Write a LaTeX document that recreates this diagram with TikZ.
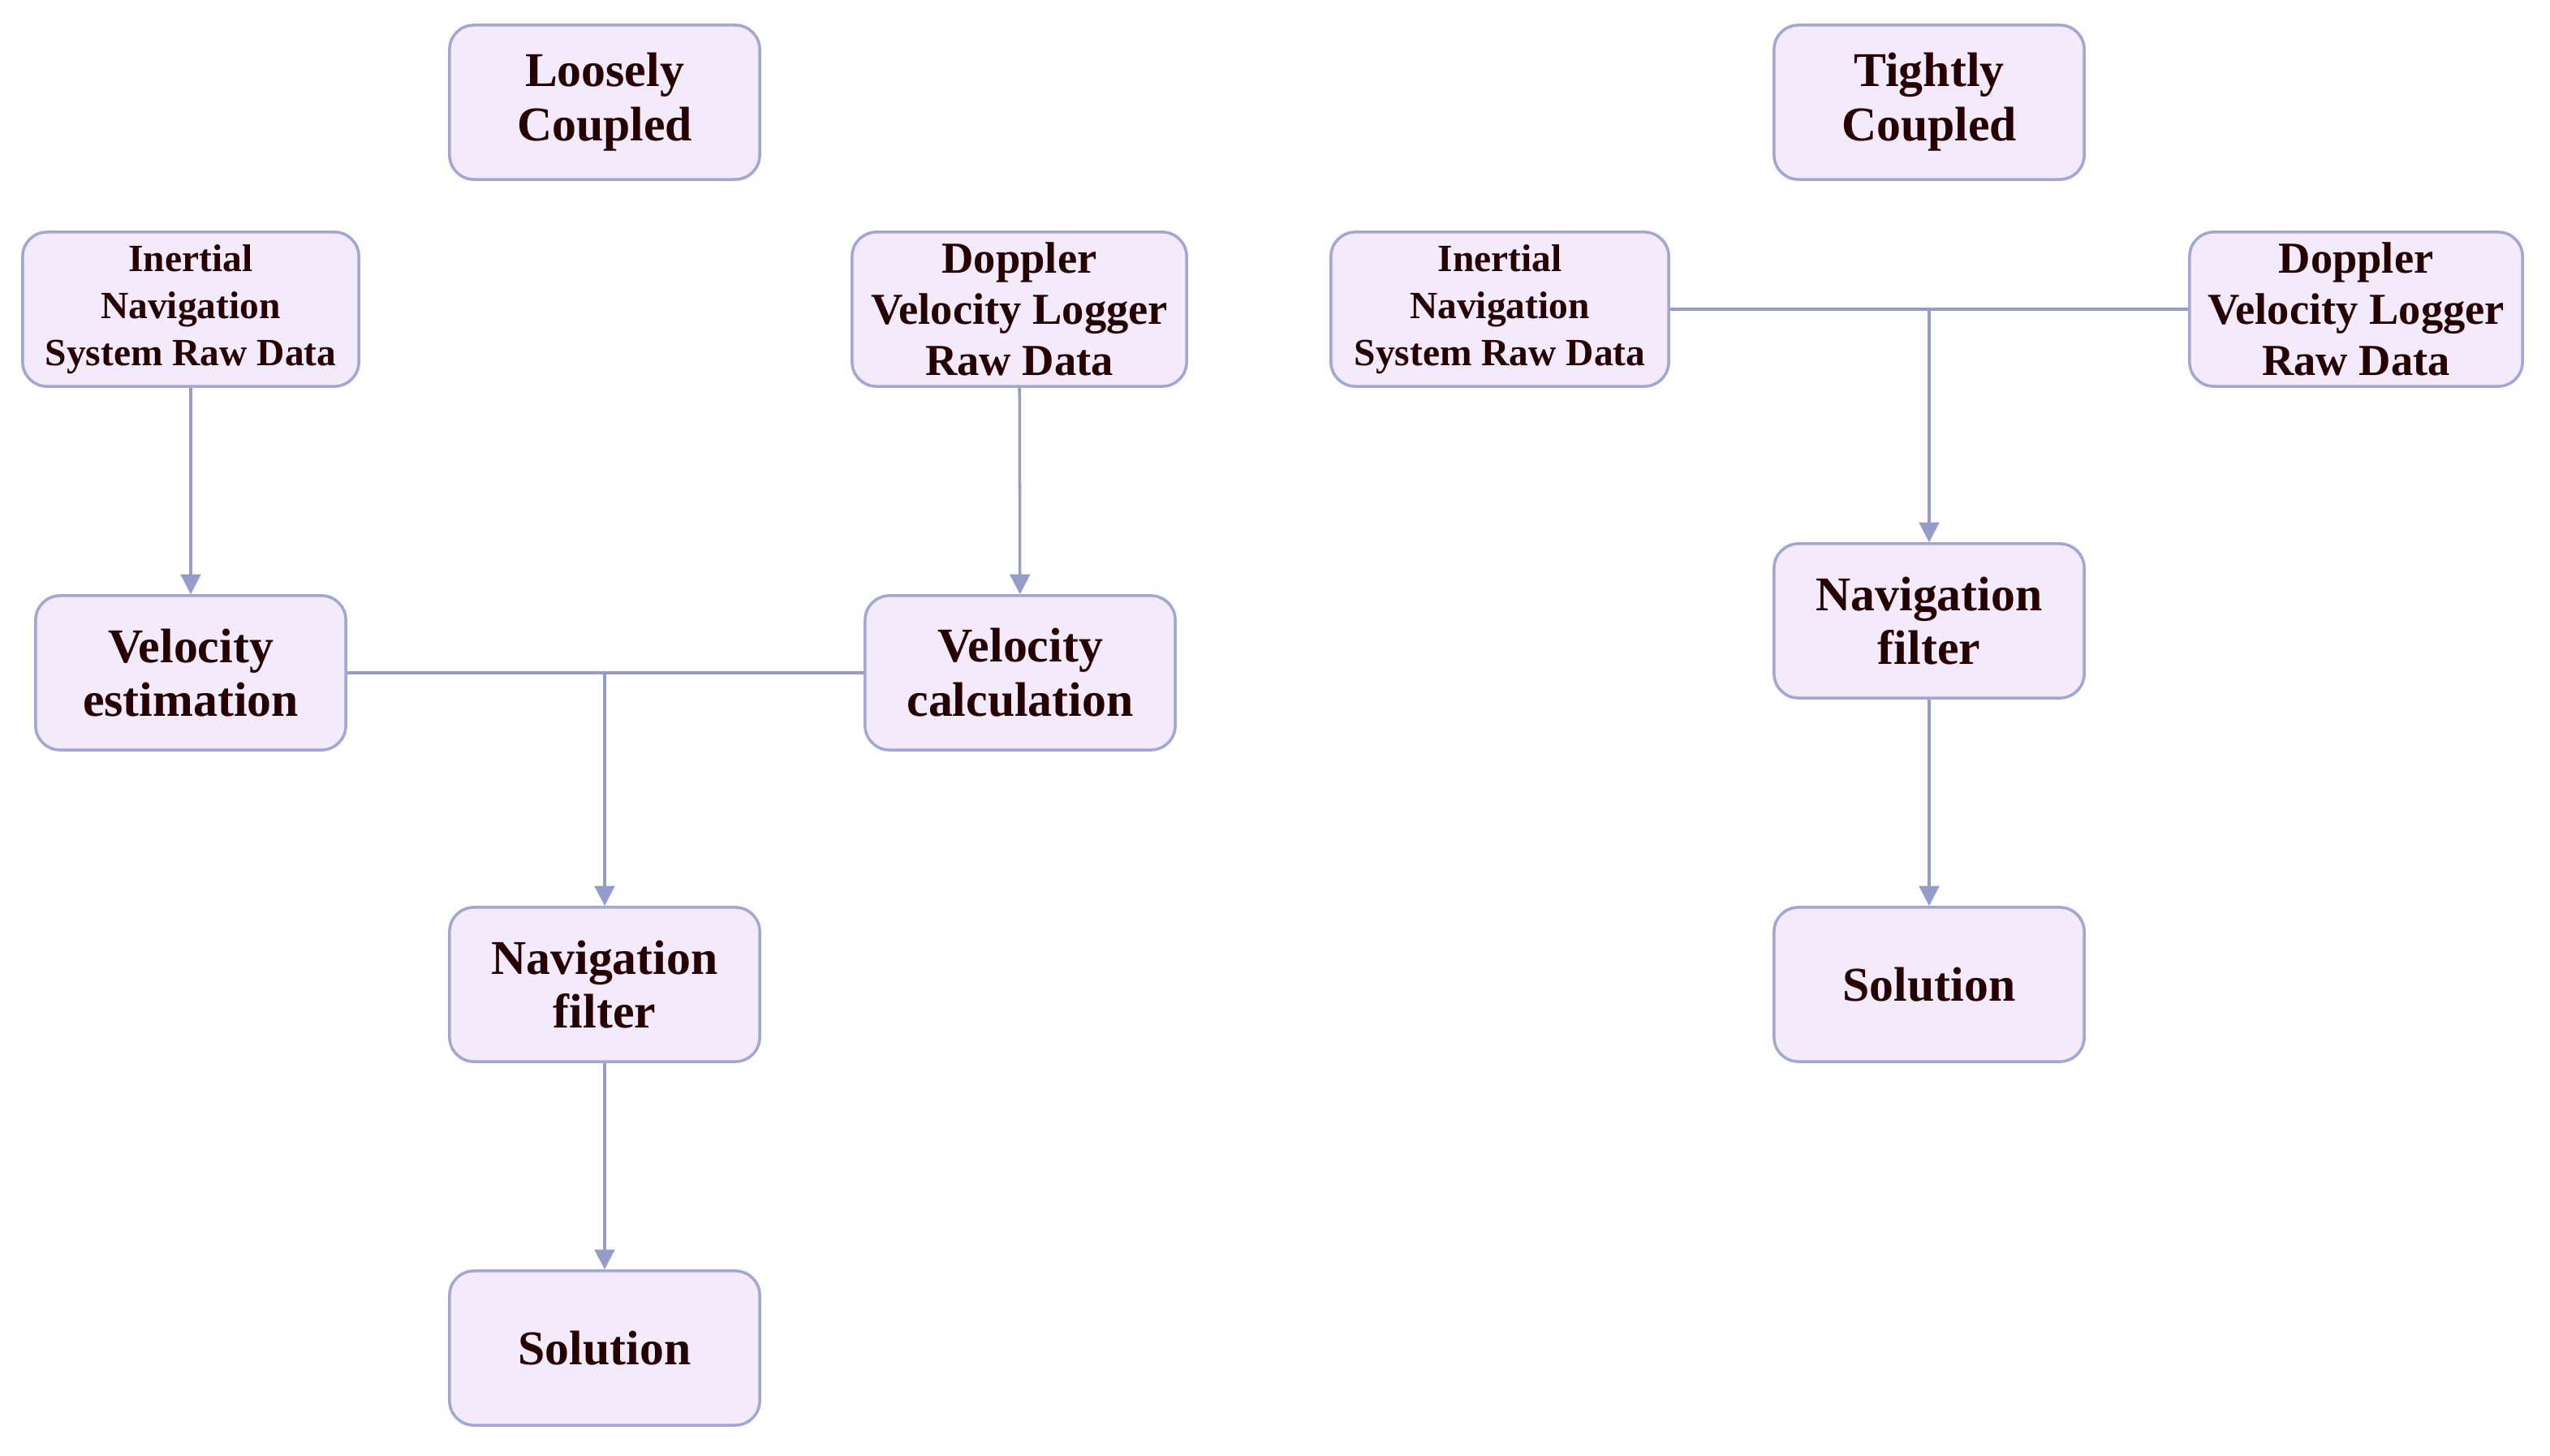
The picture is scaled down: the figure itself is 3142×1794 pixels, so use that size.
\documentclass[tikz,border=0pt]{standalone}
\usepackage{fontspec}
\setmainfont{Liberation Serif}
\usetikzlibrary{arrows.meta}
\definecolor{boxfill}{HTML}{F3EAFB}
\definecolor{boxline}{HTML}{A2A6D2}
\definecolor{arr}{HTML}{959BCB}
\begin{document}
\begin{tikzpicture}[x=0.01cm,y=-0.01cm,
  box/.style={draw=boxline,fill=boxfill,line width=1pt,rounded corners=0.3cm,
    minimum width=3.82cm,minimum height=1.9cm,align=center,inner sep=2pt,
    font=\bfseries\fontsize{17}{19}\selectfont,text=black!85!red},
  small/.style={box,font=\bfseries\fontsize{13.5}{16.5}\selectfont},
  mid/.style={box,font=\bfseries\fontsize{15.5}{18}\selectfont},
  conn/.style={draw=arr,line width=1pt},
  arrow/.style={conn,-{Triangle[length=7pt,width=7pt]}}]
\useasboundingbox (0,0) rectangle (3142,1794);
\node[box] (lc) at (745,126) {Loosely\\Coupled};
\node[small,minimum width=4.14cm] (ins1) at (235,381) {Inertial\\Navigation\\System Raw Data};
\node[mid,minimum width=4.12cm] (dvl1) at (1256,381) {Doppler\\Velocity Logger\\Raw Data};
\node[box] (ve) at (235,829) {Velocity\\estimation};
\node[box] (vc) at (1257,829) {Velocity\\calculation};
\node[box] (nf1) at (745,1213) {Navigation\\filter};
\node[box] (sol1) at (745,1661) {Solution};
\node[box] (tc) at (2377,126) {Tightly\\Coupled};
\node[small,minimum width=4.16cm] (ins2) at (1848,381) {Inertial\\Navigation\\System Raw Data};
\node[mid,minimum width=4.1cm] (dvl2) at (2903,381) {Doppler\\Velocity Logger\\Raw Data};
\node[box] (nf2) at (2377,765) {Navigation\\filter};
\node[box] (sol2) at (2377,1213) {Solution};
\coordinate (j1) at (745,829);
\coordinate (j2) at (2377,381);
\draw[arrow] (ins1) -- (ve);
\draw[arrow] (dvl1) -- (vc);
\draw[conn] (ve) -- (vc);
\draw[arrow] (j1) -- (nf1);
\draw[arrow] (nf1) -- (sol1);
\draw[conn] (ins2) -- (dvl2);
\draw[arrow] (j2) -- (nf2);
\draw[arrow] (nf2) -- (sol2);
\end{tikzpicture}
\end{document}
